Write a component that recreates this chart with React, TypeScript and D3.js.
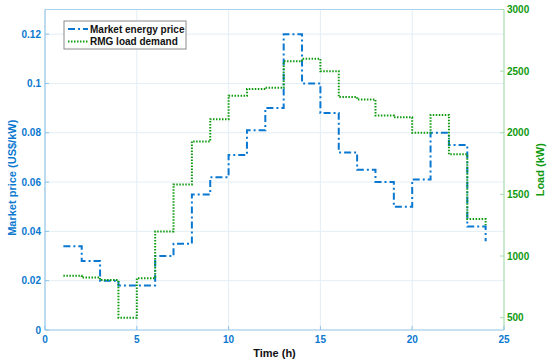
import React, { useRef, useEffect } from 'react';
import * as d3 from 'd3';

const hours = [1, 2, 3, 4, 5, 6, 7, 8, 9, 10, 11, 12, 13, 14, 15, 16, 17, 18, 19, 20, 21, 22, 23, 24];
const price = [0.034, 0.028, 0.020, 0.018, 0.018, 0.030, 0.035, 0.055, 0.062, 0.071, 0.081, 0.090,
  0.120, 0.100, 0.088, 0.072, 0.065, 0.060, 0.050, 0.061, 0.080, 0.075, 0.042, 0.036];
const load = [840, 825, 805, 500, 820, 1200, 1580, 1930, 2110, 2300, 2355, 2365,
  2580, 2600, 2500, 2290, 2270, 2140, 2125, 2000, 2145, 1825, 1300, 1250];
const xTicks = [0, 5, 10, 15, 20, 25];
const priceTicks = [0, 0.02, 0.04, 0.06, 0.08, 0.1, 0.12];
const loadTicks = [500, 1000, 1500, 2000, 2500, 3000];
const legendLabels = ['Market energy price', 'RMG load demand'];

const BLUE = '#0a78d0';
const GREEN = '#109a10';
const FONT = '"Liberation Sans", Arial, sans-serif';
const DASHDOT = '7 3 2 3';
const DOTS = '1.5 1.5';

const App = () => {
  const ref = useRef<SVGSVGElement>(null);

  useEffect(() => {
    const width = 550;
    const height = 363;
    const m = { left: 45, right: 46, top: 9.5, bottom: 33 };
    const svg = d3.select(ref.current);
    svg.selectAll('*').remove();
    svg.attr('width', width).attr('height', height);

    const x = d3.scaleLinear().domain([0, 25]).range([m.left, width - m.right]);
    const yL = d3.scaleLinear().domain([0, 0.13]).range([height - m.bottom, m.top]);
    const yR = d3.scaleLinear().domain([400, 3000]).range([height - m.bottom, m.top]);
    const x0 = x(0), x1 = x(25), y0 = yL(0), y1 = yL(0.13);

    svg.append('rect').attr('width', width).attr('height', height).attr('fill', '#fff');

    // grid
    const grid = svg.append('g').attr('stroke', '#e3eef6').attr('stroke-width', 1);
    xTicks.slice(1, -1).forEach(t => {
      grid.append('line').attr('x1', x(t)).attr('x2', x(t)).attr('y1', y0).attr('y2', y1);
    });
    priceTicks.slice(1).forEach(t => {
      grid.append('line').attr('x1', x0).attr('x2', x1).attr('y1', yL(t)).attr('y2', yL(t));
    });

    // step lines
    const stair = (ys: number[], sc: d3.ScaleLinear<number, number>) =>
      d3.line<number>().x((_, i) => x(hours[i])).y(d => sc(d)).curve(d3.curveStepAfter)(ys);

    svg.append('path').attr('d', stair(price, yL)).attr('fill', 'none')
      .attr('stroke', BLUE).attr('stroke-width', 2).attr('stroke-dasharray', DASHDOT);
    svg.append('path').attr('d', stair(load, yR)).attr('fill', 'none')
      .attr('stroke', GREEN).attr('stroke-width', 2).attr('stroke-dasharray', DOTS);

    // axes frame
    svg.append('line').attr('x1', x0).attr('x2', x1).attr('y1', y1).attr('y2', y1)
      .attr('stroke', '#a9d2ee').attr('stroke-width', 1);
    svg.append('line').attr('x1', x0).attr('x2', x1).attr('y1', y0).attr('y2', y0)
      .attr('stroke', '#8fc3e8').attr('stroke-width', 1.2);
    svg.append('line').attr('x1', x0).attr('x2', x0).attr('y1', y0).attr('y2', y1)
      .attr('stroke', '#8fc3e8').attr('stroke-width', 1.2);
    svg.append('line').attr('x1', x1).attr('x2', x1).attr('y1', y0).attr('y2', y1)
      .attr('stroke', '#a6dcae').attr('stroke-width', 1.2);

    const txt = (sel: any) => sel.attr('font-family', FONT).attr('font-weight', 'bold').attr('font-size', 10);

    xTicks.forEach(t => {
      svg.append('line').attr('x1', x(t)).attr('x2', x(t)).attr('y1', y0).attr('y2', y0 - 4)
        .attr('stroke', '#8fc3e8');
      txt(svg.append('text')).attr('x', x(t)).attr('y', y0 + 13).attr('text-anchor', 'middle')
        .attr('fill', BLUE).text(t);
    });
    priceTicks.forEach(t => {
      svg.append('line').attr('x1', x0).attr('x2', x0 + 4).attr('y1', yL(t)).attr('y2', yL(t))
        .attr('stroke', '#8fc3e8');
      txt(svg.append('text')).attr('x', x0 - 4).attr('y', yL(t)).attr('dy', '0.35em')
        .attr('text-anchor', 'end').attr('fill', BLUE).text(d3.format('~g')(t));
    });
    loadTicks.forEach(t => {
      svg.append('line').attr('x1', x1).attr('x2', x1 - 4).attr('y1', yR(t)).attr('y2', yR(t))
        .attr('stroke', '#a6dcae');
      txt(svg.append('text')).attr('x', x1 + 3).attr('y', yR(t)).attr('dy', '0.35em')
        .attr('fill', GREEN).text(t);
    });

    // axis titles
    txt(svg.append('text')).attr('font-size', 11)
      .attr('transform', `translate(16, ${(y0 + y1) / 2 + 8}) rotate(-90)`)
      .attr('text-anchor', 'middle').attr('fill', BLUE).text('Market price (US$/kW)');
    txt(svg.append('text')).attr('font-size', 11)
      .attr('transform', `translate(544, ${(y0 + y1) / 2}) rotate(-90)`)
      .attr('text-anchor', 'middle').attr('fill', GREEN).text('Load (kW)');
    txt(svg.append('text')).attr('font-size', 11).attr('x', (x0 + x1) / 2).attr('y', 357)
      .attr('text-anchor', 'middle').attr('fill', '#111').text('Time (h)');

    // legend
    const lg = svg.append('g').attr('transform', 'translate(64, 21)');
    lg.append('rect').attr('width', 122).attr('height', 28).attr('fill', '#fff')
      .attr('stroke', '#8a8a8a').attr('stroke-width', 1);
    legendLabels.forEach((label, i) => {
      const yy = 8 + i * 12.5;
      lg.append('line').attr('x1', 4).attr('x2', 24).attr('y1', yy).attr('y2', yy)
        .attr('stroke', i === 0 ? BLUE : GREEN).attr('stroke-width', 2)
        .attr('stroke-dasharray', i === 0 ? DASHDOT : DOTS);
      txt(lg.append('text')).attr('x', 26).attr('y', yy).attr('dy', '0.35em')
        .attr('fill', '#111').text(label);
    });

    return () => {
      d3.select(ref.current).selectAll('*').remove();
    };
  }, []);

  return <svg ref={ref} style={{ position: 'absolute', left: 0, top: 0 }}></svg>;
};

export default App;
